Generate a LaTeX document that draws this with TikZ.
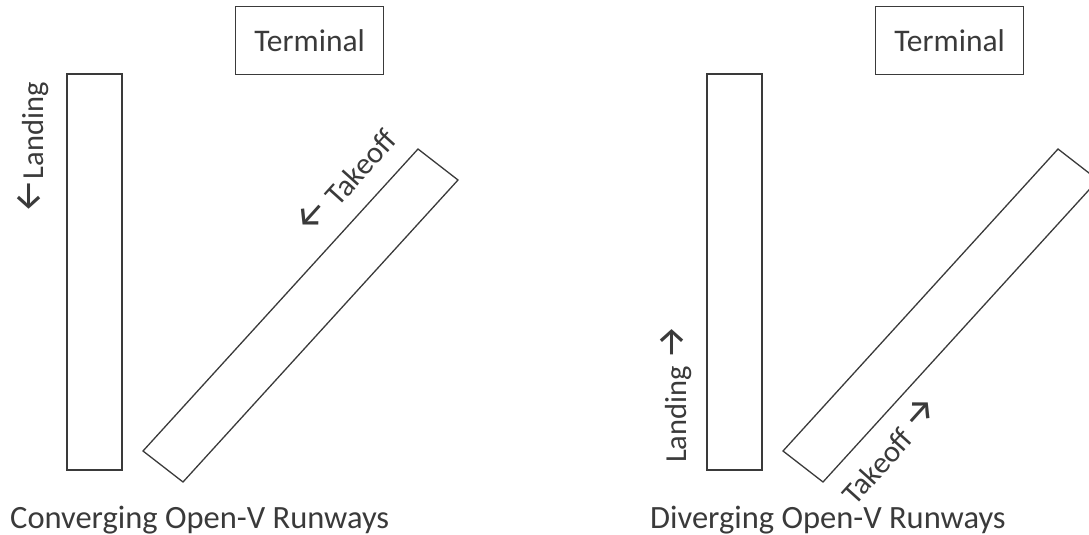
\documentclass[tikz,border=0pt]{standalone}
\usepackage{fontspec}
\setmainfont{Carlito}
\newfontfamily\arrowfont{Fira Sans}
\definecolor{ink}{HTML}{3A3A3A}
\tikzset{
  rw/.style={draw=ink, line width=1.3pt, line join=miter},
  lbl/.style={text=ink, font=\fontsize{30.5}{34}\selectfont, inner sep=0pt},
  captxt/.style={text=ink, font=\fontsize{32.5}{36}\selectfont, inner sep=0pt, anchor=base west},
  termbox/.style={rw, minimum width=148pt, minimum height=68pt, inner sep=0pt, anchor=north west, text=ink, font=\fontsize{31.5}{34}\selectfont},
}
\newcommand{\arr}[1]{\raisebox{2.5pt}{\arrowfont\fontsize{38}{40}\selectfont #1}}
\begin{document}
\begin{tikzpicture}[x=1pt,y=-1pt]
\useasboundingbox (0,0) rectangle (1089,535);
\clip (0,0) rectangle (1089,535);
% ---------- left panel ----------
\node[termbox] (termL) at (235,6) {Terminal};
\draw[rw] (67,74) rectangle (122,470);
\coordinate (dA) at (143,451);
\coordinate (dB) at (183,482);
\coordinate (dC) at (458,180);
\coordinate (dD) at (418,149);
\draw[rw] (dA) -- (dB) -- (dC) -- (dD) -- cycle;
\node[lbl, rotate=90] (landL) at (33,148) {\arr{←}Landing};
\node[lbl, rotate=48] (takeL) at (345,181) {\arr{←} Takeoff};
\node[captxt] (capL) at (10,528) {Converging Open-V Runways};
% ---------- right panel ----------
\node[termbox] (termR) at (875,6) {Terminal};
\draw[rw] (707,74) rectangle (762,470);
\coordinate (eA) at (783,451);
\coordinate (eB) at (823,482);
\coordinate (eC) at (1098,180);
\coordinate (eD) at (1058,149);
\draw[rw] (eA) -- (eB) -- (eC) -- (eD) -- cycle;
\node[lbl, rotate=90] (landR) at (676,394) {Landing \arr{→}};
\node[lbl, rotate=48] (takeR) at (889,449) {Takeoff \arr{→}};
\node[captxt] (capR) at (650,528) {Diverging Open-V Runways};
\end{tikzpicture}
\end{document}
